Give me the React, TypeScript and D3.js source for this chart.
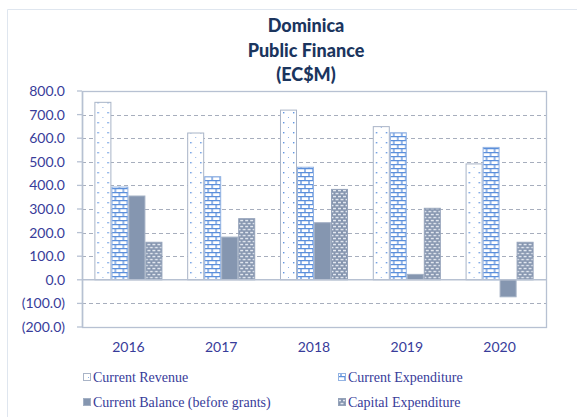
import * as d3 from 'd3';

const years = ['2016', '2017', '2018', '2019', '2020'];
const seriesNames = ['Current Revenue', 'Current Expenditure', 'Current Balance (before grants)', 'Capital Expenditure'];
const currentRevenue = [752, 622, 719, 649, 491];
const currentExpenditure = [393, 437, 477, 623, 561];
const currentBalance = [355, 181, 242, 23, -72];
const capitalExpenditure = [159, 259, 383, 303, 159];
const yTicks = [-200, -100, 0, 100, 200, 300, 400, 500, 600, 700, 800];
const titleLines = ['Dominica', 'Public Finance', '(EC$M)'];

const seriesValues = [currentRevenue, currentExpenditure, currentBalance, capitalExpenditure];
const fills = ['url(#pRev)', 'url(#pExp)', '#8596b0', 'url(#pCap)'];
const strokes = ['#a9b4c7', '#93b3e3', '#a3b0c4', '#95a3ba'];

const W = 577;
const H = 417;
const left = 82;
const right = 546;
const top = 91;
const bottom = 327;

const fmt = (v: number) => (v < 0 ? `(${Math.abs(v).toFixed(1)})` : v.toFixed(1));

export default function App() {
  const x0 = d3.scaleBand<string>().domain(years).range([left, right]).paddingInner(0.267).paddingOuter(0.1335);
  const x1 = d3.scaleBand<string>().domain(seriesNames).range([0, x0.bandwidth()]);
  const y = d3.scaleLinear().domain([-200, 800]).range([bottom, top]);

  const axisColor = '#b7c1d2';
  const labelColor = '#383c9a';

  return (
    <svg width={W} height={H} style={{ position: 'absolute', left: 0, top: 0, background: '#fff' }}>
      <defs>
        <pattern id="pRev" width="10" height="10" patternUnits="userSpaceOnUse">
          <rect width="10" height="10" fill="#fff" />
          <rect x="3" y="2" width="1.4" height="1.4" fill="#6094e0" />
          <rect x="8" y="7" width="1" height="1" fill="#8fb2e6" />
        </pattern>
        <pattern id="pExp" width="8" height="8" patternUnits="userSpaceOnUse">
          <rect width="8" height="8" fill="#fff" />
          <path d="M0,0.6H8M0,4.6H8M1,0.6V4.6M5,4.6V8.6" stroke="#5b8fdb" strokeWidth="1.3" fill="none" />
        </pattern>
        <pattern id="pCap" width="5" height="6" patternUnits="userSpaceOnUse">
          <rect width="5" height="6" fill="#8595af" />
          <rect x="0.5" y="0.8" width="3" height="1.5" fill="#e2e7ef" />
          <rect x="3" y="3.8" width="3" height="1.5" fill="#e2e7ef" />
          <rect x="-2" y="3.8" width="3" height="1.5" fill="#e2e7ef" />
        </pattern>
      </defs>

      {/* outer chart border */}
      <path d="M7.5,417V9.5H577" stroke="#dfe6ef" fill="none" />

      {/* title */}
      <text x={306} textAnchor="middle" fontFamily="Lato, sans-serif" fontWeight="900" fontSize={18} fill="#1b355e">
        {titleLines.map((t, i) => (
          <tspan key={t} x={306} y={32 + i * 24.5}>{t}</tspan>
        ))}
      </text>

      {/* gridlines */}
      {yTicks.filter(t => t !== 0 && t !== 800 && t !== -200).map(t => (
        <line key={t} x1={left} x2={right} y1={Math.round(y(t)) + 0.5} y2={Math.round(y(t)) + 0.5}
          stroke="#a7aebd" strokeDasharray="4,3" />
      ))}

      {/* plot frame */}
      <rect x={left + 0.5} y={top + 0.5} width={right - left} height={bottom - top} fill="none" stroke={axisColor} strokeWidth={1.3} />

      {/* bars */}
      {years.map((yr, i) => (
        <g key={yr} transform={`translate(${x0(yr)},0)`}>
          {seriesNames.map((s, j) => {
            const v = seriesValues[j][i];
            const y0 = y(Math.max(0, v));
            const h = Math.abs(y(v) - y(0));
            return (
              <rect key={s} x={(x1(s) ?? 0) + 0.5} y={y0} width={x1.bandwidth() - 1} height={h}
                fill={fills[j]} stroke={strokes[j]} strokeWidth={1} />
            );
          })}
        </g>
      ))}

      {/* zero line */}
      <line x1={left} x2={right} y1={y(0)} y2={y(0)} stroke={axisColor} strokeWidth={1.5} />

      {/* y axis */}
      <line x1={left + 0.5} x2={left + 0.5} y1={top} y2={bottom} stroke={axisColor} strokeWidth={1.5} />
      {yTicks.map(t => (
        <g key={t}>
          <line x1={left - 5} x2={left} y1={y(t)} y2={y(t)} stroke={axisColor} strokeWidth={1.3} />
          <text x={65} y={y(t)} dy="0.36em" textAnchor="end" fontFamily="Lato, sans-serif" fontSize={14} fill={labelColor}>
            {fmt(t)}
          </text>
        </g>
      ))}

      {/* x labels */}
      {years.map(yr => (
        <text key={yr} x={(x0(yr) ?? 0) + x0.bandwidth() / 2} y={352} textAnchor="middle"
          fontFamily="Lato, sans-serif" fontSize={14} fill={labelColor}>
          {yr}
        </text>
      ))}

      {/* legend */}
      {seriesNames.map((s, j) => {
        const lx = j % 2 === 0 ? 83 : 338;
        const ly = j < 2 ? 382 : 407;
        return (
          <g key={s}>
            <rect x={lx + 0.5} y={ly - 8.5} width={7} height={7} fill={fills[j]} stroke={strokes[j]} />
            <text x={lx + 10} y={ly} fontFamily="'Liberation Serif', 'Times New Roman', serif" fontSize={14} fill={labelColor}>
              {s}
            </text>
          </g>
        );
      })}
    </svg>
  );
}
